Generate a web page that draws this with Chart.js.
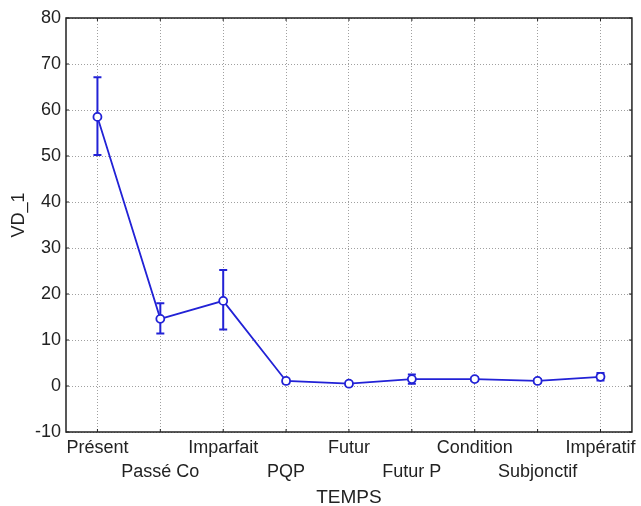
<!DOCTYPE html>
<html><head><meta charset="utf-8">
<script src="https://cdn.jsdelivr.net/npm/chart.js@4.4.0/dist/chart.umd.min.js"></script>
<style>html,body{margin:0;padding:0;background:#fff;}#wrap{width:641px;height:506px;}</style>
</head><body><div id="wrap"><canvas id="c" width="641" height="506"></canvas></div>
<script>
const categories = ['Présent','Passé Co','Imparfait','PQP','Futur','Futur P','Condition','Subjonctif','Impératif'];
const means = [58.5, 14.6, 18.5, 1.1, 0.5, 1.5, 1.5, 1.1, 2.0];
const errHigh = [67.1, 18.0, 25.2, 1.6, 0.9, 2.5, 1.9, 1.5, 2.8];
const errLow = [50.2, 11.4, 12.3, 0.6, 0.1, 0.5, 1.1, 0.7, 1.2];
const yTicks = [-10, 0, 10, 20, 30, 40, 50, 60, 70, 80];
const yTitle = 'VD_1';
const xTitle = 'TEMPS';

const BLUE = '#2222d6';
const FONT = 'Liberation Sans, Arial, sans-serif';

const frameAndErrors = {
  id: 'frameAndErrors',
  beforeDatasetsDraw(chart) {
    const {ctx, scales: {x, y}} = chart;
    ctx.save();
    ctx.setLineDash([]);
    ctx.strokeStyle = BLUE;
    ctx.lineWidth = 2;
    for (let i = 0; i < categories.length; i++) {
      const px = x.getPixelForValue(i);
      const yt = y.getPixelForValue(errHigh[i]);
      const yb = y.getPixelForValue(errLow[i]);
      ctx.beginPath();
      ctx.moveTo(px, yt); ctx.lineTo(px, yb);
      ctx.moveTo(px - 4, yt); ctx.lineTo(px + 4, yt);
      ctx.moveTo(px - 4, yb); ctx.lineTo(px + 4, yb);
      ctx.stroke();
    }
    ctx.restore();
  },
  afterDraw(chart) {
    const {ctx, chartArea: a, scales: {x, y}} = chart;
    ctx.save();
    ctx.setLineDash([]);
    ctx.strokeStyle = '#222';
    ctx.lineWidth = 1.5;
    ctx.strokeRect(a.left, a.top, a.right - a.left, a.bottom - a.top);
    ctx.lineWidth = 1;
    ctx.beginPath();
    for (let i = 0; i < categories.length; i++) {
      const px = x.getPixelForValue(i);
      ctx.moveTo(px, a.top); ctx.lineTo(px, a.top + 3);
      ctx.moveTo(px, a.bottom); ctx.lineTo(px, a.bottom - 3);
    }
    yTicks.forEach(v => {
      const py = y.getPixelForValue(v);
      ctx.moveTo(a.right, py); ctx.lineTo(a.right - 3, py);
      ctx.moveTo(a.left, py); ctx.lineTo(a.left + 3, py);
    });
    ctx.stroke();
    // y axis title
    ctx.fillStyle = '#222';
    ctx.font = '18px ' + FONT;
    ctx.textAlign = 'center';
    ctx.textBaseline = 'middle';
    ctx.translate(19, (a.top + a.bottom) / 2 - 10);
    ctx.rotate(-Math.PI / 2);
    ctx.fillText(yTitle, 0, 0);
    ctx.restore();
  }
};

new Chart(document.getElementById('c'), {
  type: 'line',
  data: {
    labels: categories,
    datasets: [{
      data: means,
      borderColor: BLUE,
      borderWidth: 1.8,
      backgroundColor: '#fff',
      pointBackgroundColor: '#fff',
      pointBorderColor: BLUE,
      pointBorderWidth: 1.8,
      pointRadius: 4,
      tension: 0
    }]
  },
  options: {
    responsive: false,
    animation: false,
    layout: {padding: {top: 18, right: 9, left: 0, bottom: 0}},
    plugins: {legend: {display: false}, tooltip: {enabled: false}},
    scales: {
      x: {
        type: 'category',
        offset: true,
        grid: {color: '#a0a0a0', drawTicks: false, offset: false, lineWidth: 1},
        border: {display: false, dash: [1, 2]},
        ticks: {
          color: '#222',
          font: {family: FONT, size: 18, lineHeight: 1.28},
          padding: 5,
          autoSkip: false,
          maxRotation: 0,
          callback: (v, i) => i % 2 === 0 ? categories[i] : ['', categories[i]]
        },
        title: {display: true, text: xTitle, color: '#222',
          font: {family: FONT, size: 19}, padding: {top: 0, bottom: -3}},
        afterFit: s => { s.height = 74; }
      },
      y: {
        min: -10, max: 80,
        afterBuildTicks: s => { s.ticks = yTicks.map(v => ({value: v})); },
        grid: {color: '#a0a0a0', drawTicks: false, lineWidth: 1},
        border: {display: false, dash: [1, 2]},
        ticks: {
          color: '#222',
          font: {family: FONT, size: 18},
          padding: 5
        },
        afterFit: s => { s.width = 66; }
      }
    }
  },
  plugins: [frameAndErrors]
});
</script></body></html>
